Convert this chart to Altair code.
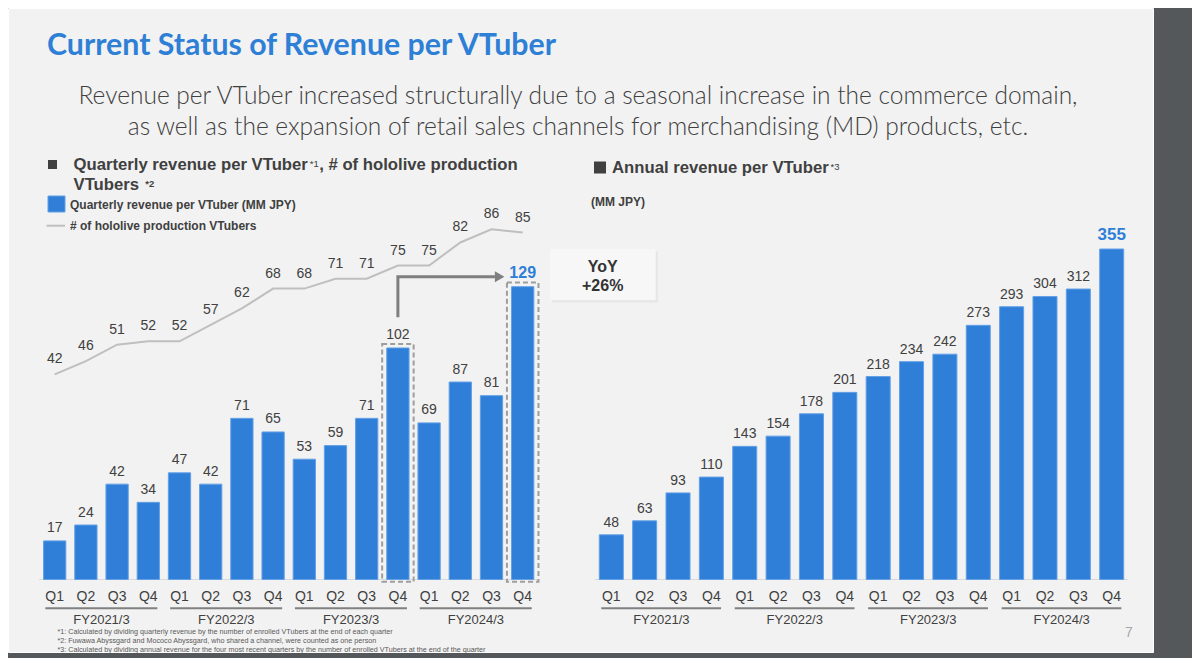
import altair as alt
import pandas as pd

# ---------------- data ----------------
quarters = ["Q1", "Q2", "Q3", "Q4"] * 4
fiscal_years = ["FY2021/3", "FY2022/3", "FY2023/3", "FY2024/3"]
quarterly_revenue = [17, 24, 42, 34, 47, 42, 71, 65, 53, 59, 71, 102, 69, 87, 81, 129]
vtubers = [42, 46, 51, 52, 52, 57, 62, 68, 68, 71, 71, 75, 75, 82, 86, 85]
annual_revenue = [48, 63, 93, 110, 143, 154, 178, 201, 218, 234, 242, 273, 293, 304, 312, 355]
highlight = [11, 15]
yoy_text = ["YoY", "+26%"]
footnotes = [
    "*1: Calculated by dividing quarterly revenue by the number of enrolled VTubers at the end of each quarter",
    "*2: Fuwawa Abyssgard and Mococo Abyssgard, who shared a channel, were counted as one person",
    "*3: Calculated by dividing annual revenue for the four most recent quarters by the number of enrolled VTubers at the end of the quarter",
]

n = len(quarterly_revenue)
qdf = pd.DataFrame({
    "idx": list(range(n)),
    "quarter": quarters,
    "rev": quarterly_revenue,
    "vt": vtubers,
})
qdf["hl"] = qdf["idx"].isin(highlight)
qdf["last"] = qdf["idx"] == n - 1
adf = pd.DataFrame({"idx": list(range(n)), "quarter": quarters, "rev": annual_revenue})
adf["last"] = adf["idx"] == n - 1
gdf = pd.DataFrame({"g": list(range(len(fiscal_years))), "fy": fiscal_years})

# ---------------- style ----------------
BLUE = "#2f7ed8"
EDGE = "#63a0e6"
TXT = "#404040"
ARIAL = "Liberation Sans"
O = 8  # page margin offset

xL = alt.Scale(domain=[0, 15], range=[54.7 - O, 522.7 - O], nice=False, zero=False)
yL = alt.Scale(domain=[0, 129], range=[579.5 - O, 286.7 - O], nice=False)
yLine = alt.Scale(domain=[42, 86], range=[374.3 - O, 229.3 - O], nice=False, zero=False)
xR = alt.Scale(domain=[0, 15], range=[611.3 - O, 1111.7 - O], nice=False, zero=False)
yR = alt.Scale(domain=[0, 355], range=[579.5 - O, 249 - O], nice=False)


def txt(s, x, y, size=14, weight="normal", color=TXT, align="left", baseline="middle", font=ARIAL):
    return alt.Chart(pd.DataFrame({"t": [s]})).mark_text(
        align=align, baseline=baseline, fontSize=size, fontWeight=weight, color=color, font=font
    ).encode(x=alt.value(x), y=alt.value(y), text="t:N")


def box(x0, y0, x1, y1, **kw):
    return alt.Chart(pd.DataFrame({"t": [0]})).mark_rect(**kw).encode(
        x=alt.value(x0), x2=alt.value(x1), y=alt.value(y0), y2=alt.value(y1)
    )


def panel(df, xs, ys, half, label_dy, last_size, with_boxes):
    base = alt.Chart(df).transform_calculate(x0=f"datum.idx - {half}", x1=f"datum.idx + {half}")
    X = lambda f: alt.X(f, scale=xs, axis=None)
    Y = lambda f: alt.Y(f, scale=ys, axis=None)
    layers = []
    layers.append(
        alt.Chart(df).mark_rule(color="#d9d9d9", strokeWidth=1).encode(
            x=alt.X(datum=-0.48, scale=xs, axis=None), x2=alt.X2(datum=15.48),
            y=alt.Y(datum=0, scale=ys, axis=None)
        )
    )
    layers.append(
        base.mark_bar(color=BLUE, stroke=EDGE, strokeWidth=1).encode(
            x=X("x0:Q"), x2="x1:Q", y=Y("rev:Q"), y2=alt.Y2(datum=0)
        )
    )
    if with_boxes:
        layers.append(
            alt.Chart(df).transform_filter("datum.hl").transform_calculate(
                bx0="datum.idx - 0.505", bx1="datum.idx + 0.505", by0="datum.rev + 1.8", by1="-0.97"
            ).mark_rect(fillOpacity=0, stroke="#9e9e9e", strokeWidth=2, strokeDash=[5, 3]).encode(
                x=X("bx0:Q"), x2="bx1:Q", y=Y("by0:Q"), y2="by1:Q"
            )
        )
    layers.append(
        alt.Chart(df).transform_filter("!datum.last").mark_text(
            baseline="alphabetic", dy=label_dy, fontSize=14, color=TXT, font=ARIAL
        ).encode(x=X("idx:Q"), y=Y("rev:Q"), text="rev:Q")
    )
    layers.append(
        alt.Chart(df).transform_filter("datum.last").mark_text(
            baseline="alphabetic", dy=-9, fontSize=last_size, fontWeight="bold", color=BLUE, font=ARIAL
        ).encode(x=X("idx:Q"), y=Y("rev:Q"), text="rev:Q")
    )
    layers.append(
        alt.Chart(df).mark_text(fontSize=14, color=TXT, font=ARIAL, baseline="middle").encode(
            x=X("idx:Q"), y=alt.value(596.7 - O), text="quarter:N"
        )
    )
    layers.append(
        alt.Chart(gdf).transform_calculate(s="datum.g * 4 - 0.3", e="datum.g * 4 + 3.29").mark_rule(
            color="#808080", strokeWidth=2
        ).encode(x=X("s:Q"), x2="e:Q", y=alt.value(608.3 - O))
    )
    layers.append(
        alt.Chart(gdf).transform_calculate(c="datum.g * 4 + 1.5").mark_text(
            fontSize=13, color=TXT, font=ARIAL, baseline="middle"
        ).encode(x=X("c:Q"), y=alt.value(620 - O), text="fy:N")
    )
    return alt.layer(*layers)


left = panel(qdf, xL, yL, 0.357, -8.5, 16, True)
right = panel(adf, xR, yR, 0.36, -8, 17, False)

# arrow from the highlighted bars (data-derived)
h0, h1 = highlight
arrow_df = pd.DataFrame({
    "x": [h0, h0, h1 - 0.89],
    "y": [quarterly_revenue[h0] + 13.5, quarterly_revenue[h1] + 4.4, quarterly_revenue[h1] + 4.4],
    "o": [0, 1, 2],
})
head_df = pd.DataFrame({"x": [h1 - 0.74], "y": [quarterly_revenue[h1] + 4.4]})
arrow = alt.layer(
    alt.Chart(arrow_df).mark_line(color="#7f7f7f", strokeWidth=3).encode(
        x=alt.X("x:Q", scale=xL, axis=None), y=alt.Y("y:Q", scale=yL, axis=None), order="o:Q"
    ),
    alt.Chart(head_df).mark_point(shape="triangle-right", filled=True, color="#7f7f7f", size=120, opacity=1).encode(
        x=alt.X("x:Q", scale=xL, axis=None), y=alt.Y("y:Q", scale=yL, axis=None)
    ),
)

line = alt.layer(
    alt.Chart(qdf).mark_line(color="#bfbfbf", strokeWidth=2).encode(
        x=alt.X("idx:Q", scale=xL, axis=None), y=alt.Y("vt:Q", scale=yLine, axis=None)
    ),
    alt.Chart(qdf).mark_text(baseline="alphabetic", dy=-11, fontSize=14, color=TXT, font=ARIAL).encode(
        x=alt.X("idx:Q", scale=xL, axis=None), y=alt.Y("vt:Q", scale=yLine, axis=None), text="vt:Q"
    ),
)

# ---------------- annotations ----------------
ann = []
ann.append(txt("Current Status of Revenue per VTuber", 47 - O, 46 - O, size=30.3, weight="bold", color="#2e7fd6", font="Lato"))
ann.append(txt("Revenue per VTuber increased structurally due to a seasonal increase in the commerce domain,", 578 - O, 97 - O, size=24.5, weight=300, color=TXT, align="center", font="Lato"))
ann.append(txt("as well as the expansion of retail sales channels for merchandising (MD) products, etc.", 578 - O, 127.5 - O, size=24.5, weight=300, color=TXT, align="center", font="Lato"))

# left section header
hs = 16.7
ann.append(box(48 - O, 160 - O, 57 - O, 169 - O, color="#404040"))
x_a = 73.5 - O
x_sup = x_a + 14.116 * hs + 0.5
ann.append(txt("Quarterly revenue per VTuber", x_a, 165 - O, size=hs, weight="bold", color="#404040"))
ann.append(txt("*1", x_sup, 159 - O, size=9.5, color="#404040", baseline="top"))
ann.append(txt(", # of hololive production", x_sup + 9.5, 165 - O, size=hs, weight="bold", color="#404040"))
ann.append(txt("VTubers", x_a, 185 - O, size=hs, weight="bold", color="#404040"))
ann.append(txt("*2", x_a + 4.001 * hs + 5, 179 - O, size=9.5, weight="bold", color="#404040", baseline="top"))

# left legend
ann.append(box(48 - O, 196 - O, 65 - O, 212 - O, color=BLUE, stroke=EDGE, strokeWidth=1))
ann.append(txt("Quarterly revenue per VTuber (MM JPY)", 70 - O, 204.5 - O, size=12, weight="bold", color="#404040"))
ann.append(
    alt.Chart(pd.DataFrame({"t": [0]})).mark_rule(color="#bfbfbf", strokeWidth=2).encode(
        x=alt.value(46.5 - O), x2=alt.value(65 - O), y=alt.value(225.7 - O)
    )
)
ann.append(txt("# of hololive production VTubers", 70 - O, 225.7 - O, size=12, weight="bold", color="#404040"))

# right section header
ann.append(box(594 - O, 161.5 - O, 606 - O, 173.5 - O, color="#404040"))
x_r = 612 - O
ann.append(txt("Annual revenue per VTuber", x_r, 168.3 - O, size=hs, weight="bold", color="#404040"))
ann.append(txt("*3", x_r + 13.059 * hs + 0.5, 162 - O, size=9.5, color="#404040", baseline="top"))
ann.append(txt("(MM JPY)", 591 - O, 201.7 - O, size=12, weight="bold", color="#404040"))

# YoY callout
ann.append(box(552 - O, 251.5 - O, 658 - O, 302.5 - O, color="#e4e4e4", opacity=0.8))
ann.append(box(550 - O, 249.3 - O, 655.7 - O, 300 - O, color="#f7f7f7"))
ann.append(txt(yoy_text[0], 602.7 - O, 266.7 - O, size=16, weight="bold", color="#333333", align="center"))
ann.append(txt(yoy_text[1], 602.7 - O, 285.7 - O, size=16, weight="bold", color="#333333", align="center"))

# footnotes and page number
for s, yy in zip(footnotes, [632.3, 641.2, 649.5]):
    ann.append(txt(s, 57.4 - O, yy - O, size=7.2, color="#595959"))
ann.append(txt("7", 1129 - O, 633 - O, size=14, color="#a6a6a6", align="center"))

chart = alt.layer(left, line, arrow, right, *ann).resolve_scale(
    x="independent", y="independent"
).properties(
    width=1145,
    height=644,
    background="#54585b",
    padding={"left": 0, "top": 0, "right": 39, "bottom": 6},
    autosize=alt.AutoSizeParams(type="none"),
).configure_view(fill="#f2f2f2", stroke="#ffffff", strokeWidth=1)

chart.save("out.html", embed_options={"renderer": "svg", "actions": False})
